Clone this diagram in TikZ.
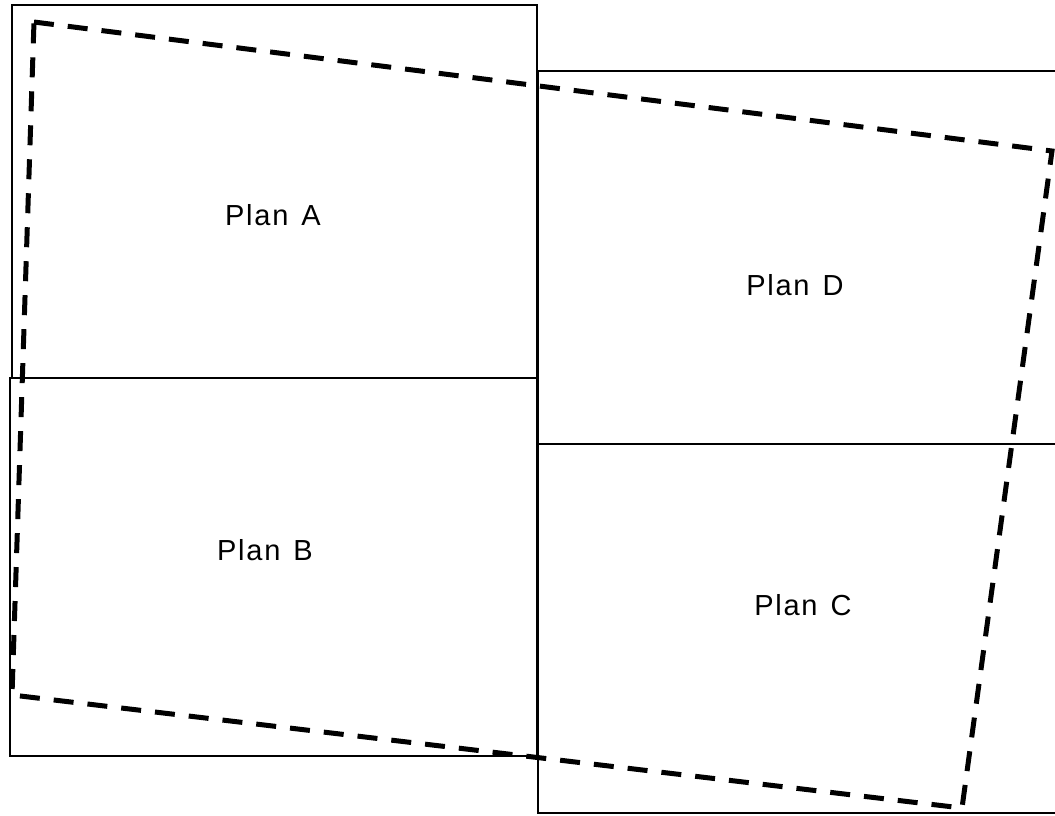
\documentclass[tikz,border=0pt]{standalone}
\usepackage{fontspec}
\setmainfont{Liberation Sans}
\begin{document}
\begin{tikzpicture}[x=1pt,y=-1pt,
  plan/.style={draw=black,line width=2.2pt},
  outline/.style={draw=black,line width=5pt,dash pattern=on 20pt off 14pt},
  label/.style={font=\fontsize{29}{34}\selectfont\addfontfeature{LetterSpace=6},inner sep=0pt}]
\useasboundingbox (0,0) rectangle (1055,815);
\draw[plan] (12,5) rectangle (537,378);
\draw[plan] (10,378) rectangle (537,756);
\draw[plan] (538,71) rectangle (1060,444);
\draw[plan] (538,444) rectangle (1060,813);
\node[label] (pa) at (273,215) {Plan\hspace{0.45em}A};
\node[label] (pb) at (265,550) {Plan\hspace{0.45em}B};
\node[label] (pd) at (795,285) {Plan\hspace{0.45em}D};
\node[label] (pc) at (803,605) {Plan\hspace{0.45em}C};
\draw[outline] (34,22) -- (1052,151) -- (962,808) -- (12,695) -- cycle;
\end{tikzpicture}
\end{document}
